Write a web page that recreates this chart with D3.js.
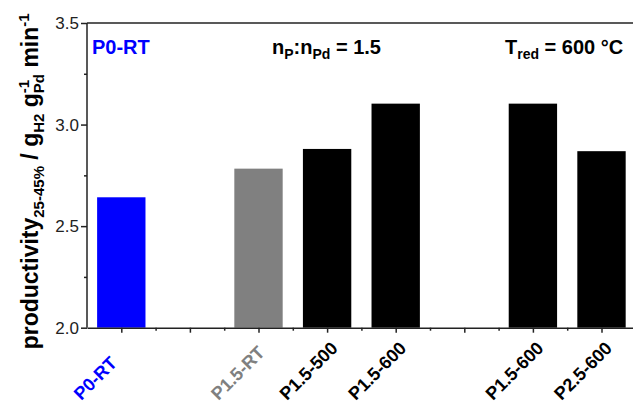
<!DOCTYPE html>
<html>
<head>
<meta charset="utf-8">
<script src="https://cdn.jsdelivr.net/npm/d3@7"></script>
<style>
  html, body { margin: 0; padding: 0; background: #fff; }
  svg { display: block; font-family: Arial, "Liberation Sans", sans-serif; }
</style>
</head>
<body>
<svg id="chart" width="633" height="411"></svg>
<script>
// ---- data ----
const categories = ["P0-RT", "P1.5-RT", "P1.5-500", "P1.5-600", "P1.5-600", "P2.5-600"];
const positions  = [0, 2, 3, 4, 6, 7];
const values     = [2.642, 2.783, 2.880, 3.103, 3.103, 2.869];
const barColors  = ["#0000ff", "#808080", "#000000", "#000000", "#000000", "#000000"];
const yTicks     = [2.0, 2.5, 3.0, 3.5];
const yMinorTicks = [2.25, 2.75, 3.25];
const xMinorTicks = [0.5, 1.5, 2.5, 3.5, 4.5, 5.5, 6.5];
const xMajorTicks = [0, 1, 2, 3, 4, 5, 6, 7];

const mLeft = 87, mTop = 23, mBottom = 327.7;
const x = d3.scaleLinear().domain([-0.5, 7.5]).range([mLeft, mLeft + 8 * 68.6]);
const y = d3.scaleLinear().domain([2.0, 3.5]).range([mBottom, mTop]);
const barW = 0.705;

const svg = d3.select("#chart");

// bars
svg.append("g").selectAll("rect")
  .data(values.map((v, i) => ({v, p: positions[i], c: barColors[i]})))
  .join("rect")
  .attr("x", d => x(d.p - barW / 2))
  .attr("width", d => x(d.p + barW / 2) - x(d.p - barW / 2))
  .attr("y", d => y(d.v))
  .attr("height", d => y(2.0) - y(d.v))
  .attr("fill", d => d.c);

const axisColor = "#222";
// y axis
const yAxis = svg.append("g").attr("transform", `translate(${mLeft},0)`)
  .call(d3.axisLeft(y).tickValues(yTicks).tickFormat(d3.format(".1f")).tickSize(6).tickPadding(2));
svg.append("g").attr("transform", `translate(${mLeft},0)`)
  .call(d3.axisLeft(y).tickValues(yMinorTicks).tickFormat("").tickSize(3))
  .call(g => g.select(".domain").remove());
// x axis
svg.append("g").attr("transform", `translate(0,${mBottom})`)
  .call(d3.axisBottom(x).tickValues(xMajorTicks).tickFormat("").tickSize(5).tickSizeOuter(0));
svg.append("g").attr("transform", `translate(0,${mBottom})`)
  .call(d3.axisBottom(x).tickValues(xMinorTicks).tickFormat("").tickSize(3))
  .call(g => g.select(".domain").remove());
// top border
svg.append("line").attr("x1", mLeft).attr("x2", x(7.5)).attr("y1", mTop).attr("y2", mTop);

svg.selectAll(".domain, .tick line, line").attr("stroke", axisColor).attr("stroke-width", 1.5);
yAxis.selectAll(".domain").attr("d", `M0,${mBottom}V${mTop}`);
yAxis.selectAll(".tick text").attr("font-size", 17).attr("fill", axisColor)
  .attr("font-family", "Arial, 'Liberation Sans', sans-serif");

// x labels (rotated -45°)
svg.append("g").attr("class", "xlabels").selectAll("text")
  .data(categories.map((c, i) => ({c, p: positions[i], col: barColors[i]})))
  .join("text")
  .attr("transform", d => "translate(" + (x(d.p) - 40) + ",401) rotate(-45)")
  .attr("text-anchor", "start")
  .attr("font-size", 18).attr("font-weight", "bold")
  .attr("fill", d => d.col)
  .text(d => d.c);

// annotations
svg.append("text").attr("x", 92).attr("y", 54)
  .attr("font-size", 20).attr("font-weight", "bold").attr("fill", "#0000ff").text("P0-RT");

const a2 = svg.append("text").attr("x", 272).attr("y", 54)
  .attr("font-size", 20).attr("font-weight", "bold").attr("fill", "#000");
a2.append("tspan").text("n");
a2.append("tspan").attr("font-size", 14).attr("dy", 5).text("P");
a2.append("tspan").attr("dy", -5).text(":n");
a2.append("tspan").attr("font-size", 14).attr("dy", 5).text("Pd");
a2.append("tspan").attr("dy", -5).text(" = 1.5");

const a3 = svg.append("text").attr("x", 505).attr("y", 54)
  .attr("font-size", 20).attr("font-weight", "bold").attr("fill", "#000");
a3.append("tspan").text("T");
a3.append("tspan").attr("font-size", 14).attr("dy", 5).text("red");
a3.append("tspan").attr("dy", -5).text(" = 600 °C");

// y axis title
const yl = svg.append("text")
  .attr("transform", `translate(38,${(mTop + mBottom) / 2 + 6}) rotate(-90)`)
  .attr("text-anchor", "middle")
  .attr("font-size", 23).attr("font-weight", "bold").attr("fill", "#000");
yl.append("tspan").text("productivity");
yl.append("tspan").attr("font-size", 15).attr("dy", 6).text("25-45%");
yl.append("tspan").attr("dy", -6).text(" / g");
yl.append("tspan").attr("font-size", 15).attr("dy", 6).text("H2");
yl.append("tspan").attr("dy", -6).text(" g");
const sup1 = yl.append("tspan").attr("font-size", 15).attr("dy", -9).text("-1");
const subPd = yl.append("tspan").attr("font-size", 15).attr("dy", 15).text("Pd");
yl.append("tspan").attr("dy", -6).text(" min");
yl.append("tspan").attr("font-size", 15).attr("dy", -9).text("-1");
subPd.attr("dx", -sup1.node().getComputedTextLength());
</script>
</body>
</html>
